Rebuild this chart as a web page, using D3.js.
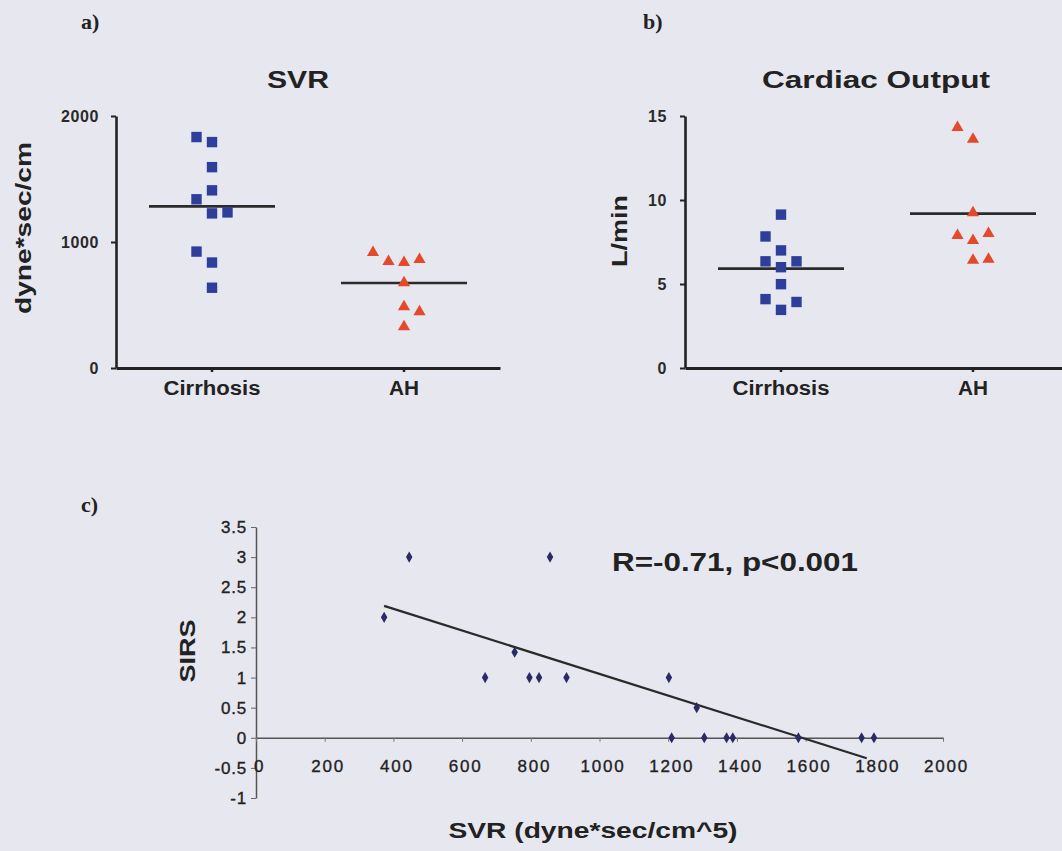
<!DOCTYPE html>
<html><head><meta charset="utf-8">
<script src="https://cdn.jsdelivr.net/npm/d3@7"></script>
<style>
html,body{margin:0;padding:0;background:#e7e7ef;}
svg{display:block;}
</style></head><body>
<svg id="chart" width="1062" height="851"></svg>
<script>
// ---------- data ----------
const groups = ["Cirrhosis", "AH"];

const svrCirrhosis    = [1833, 1793, 1594, 1410, 1339, 1227, 1235, 924, 837, 637];
const svrCirrhosisCol = [-1, 0, 0, 0, -1, 0, 1, -1, 0, 0];
const svrAH           = [916, 845, 837, 861, 677, 486, 446, 327];
const svrAHCol        = [-2, -1, 0, 1, 0, 0, 1, 0];
const svrTicks        = [0, 1000, 2000];

const coCirrhosis    = [9.13, 7.83, 7.0, 6.35, 6.35, 6.0, 4.99, 4.1, 3.93, 3.46];
const coCirrhosisCol = [0, -1, 0, -1, 1, 0, 0, -1, 1, 0];
const coAH           = [14.32, 13.61, 9.24, 7.89, 7.59, 8.0, 6.41, 6.47];
const coAHCol        = [-1, 0, 0, -1, 0, 1, 0, 1];
const coTicks        = [0, 5, 10, 15];

const sirsSVR   = [373, 446, 667, 753, 796, 824, 856, 904, 1202, 1283, 1210, 1305, 1370, 1388, 1579, 1763, 1799];
const sirsScore = [2, 3, 1, 1.42, 1, 1, 3, 1, 1, 0.5, 0, 0, 0, 0, 0, 0, 0];
const trendSVR  = [373, 1778];
const trendSIRS = [2.19, -0.34];
const sirsXTicks = [0, 200, 400, 600, 800, 1000, 1200, 1400, 1600, 1800, 2000];
const sirsYTicks = [-1, -0.5, 0, 0.5, 1, 1.5, 2, 2.5, 3, 3.5];

// ---------- helpers ----------
const svg = d3.select("#chart");
const INK = "#222";
const BLUE = "#2d3f9b";
const RED = "#e4492b";
const SANS = "'Liberation Sans', Arial, sans-serif";

function fit(sel, w) { return sel.attr("textLength", w).attr("lengthAdjust", "spacingAndGlyphs"); }
function label(x, y, txt, opts) {
  const t = svg.append("text").attr("x", x).attr("y", y).text(txt)
    .attr("font-family", opts.family || SANS)
    .attr("font-size", opts.size)
    .attr("font-weight", opts.weight || "bold")
    .attr("fill", INK)
    .attr("text-anchor", opts.anchor || "middle");
  if (opts.rotate) t.attr("transform", `rotate(-90,${x},${y})`);
  if (opts.width) fit(t, opts.width);
  return t;
}

// ---------- dot panels (a, b) ----------
function dotPanel(cfg) {
  const y = d3.scaleLinear().domain([0, cfg.max]).range([368, 116]);
  const x = d3.scaleBand().domain(groups).range([cfg.x0, cfg.x0 + 384]);
  const g = svg.append("g");

  const ya = g.append("g").attr("transform", `translate(${cfg.x0},0)`)
    .call(d3.axisLeft(y).tickValues(cfg.ticks).tickSize(5).tickSizeOuter(0)
      .tickPadding(cfg.pad).tickFormat(d3.format("d")));
  ya.select(".domain").attr("stroke", INK).attr("stroke-width", 2.6);
  ya.selectAll(".tick line").attr("stroke", INK).attr("stroke-width", 2);
  ya.selectAll(".tick text").attr("font-family", SANS).attr("font-size", 16)
    .attr("font-weight", "bold").attr("fill", "#2a2a2a").attr("letter-spacing", "0.6px");

  const xa = g.append("g").attr("transform", "translate(0,368)")
    .call(d3.axisBottom(x).tickSize(4).tickSizeOuter(0).tickPadding(9));
  xa.select(".domain").attr("stroke", INK).attr("stroke-width", 2.8);
  xa.selectAll(".tick line").attr("stroke", INK).attr("stroke-width", 2.5);
  xa.selectAll(".tick text").attr("font-family", SANS).attr("font-size", 20)
    .attr("font-weight", "bold").attr("fill", INK)
    .each(function (d) { fit(d3.select(this), d === "Cirrhosis" ? 97 : 30); });

  const cx = gname => x(gname) + x.bandwidth() / 2;
  const step = 15.5;

  // group means
  [[cfg.cir, "Cirrhosis"], [cfg.ah, "AH"]].forEach(([vals, gname]) => {
    const m = d3.mean(vals);
    g.append("line").attr("x1", cx(gname) - 63).attr("x2", cx(gname) + 63)
      .attr("y1", y(m)).attr("y2", y(m)).attr("stroke", "#2b2b2b").attr("stroke-width", 2.6);
  });

  g.selectAll("rect.pt").data(cfg.cir).join("rect").attr("class", "pt")
    .attr("x", (d, i) => cx("Cirrhosis") + cfg.cirCol[i] * step - 5.2)
    .attr("y", d => y(d) - 5.2).attr("width", 10.4).attr("height", 10.4).attr("fill", BLUE);

  const tri = d3.symbol().type(d3.symbolTriangle).size(64);
  g.selectAll("path.pt").data(cfg.ah).join("path").attr("class", "pt")
    .attr("d", tri)
    .attr("transform", (d, i) => `translate(${cx("AH") + cfg.ahCol[i] * step},${y(d)})`)
    .attr("fill", RED);
}

dotPanel({ x0: 116, max: 2000, ticks: svrTicks, pad: 12,
  cir: svrCirrhosis, cirCol: svrCirrhosisCol, ah: svrAH, ahCol: svrAHCol });
dotPanel({ x0: 685, max: 15, ticks: coTicks, pad: 13,
  cir: coCirrhosis, cirCol: coCirrhosisCol, ah: coAH, ahCol: coAHCol });

const SERIF = "'Liberation Serif', 'Times New Roman', serif";
label(81, 29, "a)", { family: SERIF, size: 22, anchor: "start" });
label(643, 29, "b)", { family: SERIF, size: 22, anchor: "start" });
label(298, 88, "SVR", { size: 23, width: 62 });
label(876, 88, "Cardiac Output", { size: 23, width: 228 });
label(31, 228, "dyne*sec/cm", { size: 22, width: 172, rotate: true });
label(627, 231, "L/min", { size: 22, width: 72, rotate: true });

// ---------- scatter panel (c) ----------
const sx = d3.scaleLinear().domain([0, 2000]).range([256, 943]);
const sy = d3.scaleLinear().domain([-1, 3.5]).range([798, 527]);
const gc = svg.append("g");

const yac = gc.append("g").attr("transform", "translate(256,0)")
  .call(d3.axisLeft(sy).tickValues(sirsYTicks).tickSize(5).tickSizeOuter(0).tickPadding(4).tickFormat(d => String(d)));
yac.select(".domain").attr("stroke", "#555").attr("stroke-width", 1.5);
yac.selectAll(".tick line").attr("stroke", "#666").attr("stroke-width", 1);
yac.selectAll(".tick text").attr("font-family", SANS).attr("font-size", 17)
  .attr("fill", INK).attr("stroke", INK).attr("stroke-width", 0.35).attr("letter-spacing", "0.8px");

const xac = gc.append("g").attr("transform", `translate(0,${sy(0)})`)
  .call(d3.axisBottom(sx).tickValues(sirsXTicks).tickSize(4).tickSizeOuter(0).tickPadding(18).tickFormat(d => String(d)));
xac.select(".domain").attr("stroke", "#555").attr("stroke-width", 1.5);
xac.selectAll(".tick line").attr("stroke", "#777").attr("stroke-width", 1);
xac.selectAll(".tick text").attr("font-family", SANS).attr("font-size", 17)
  .attr("fill", INK).attr("stroke", INK).attr("stroke-width", 0.35).attr("dx", 3).attr("letter-spacing", "1.8px");

gc.append("line")
  .attr("x1", sx(trendSVR[0])).attr("y1", sy(trendSIRS[0]))
  .attr("x2", sx(trendSVR[1])).attr("y2", sy(trendSIRS[1]))
  .attr("stroke", "#2a2a2a").attr("stroke-width", 2.2);

const dia = d3.symbol().type(d3.symbolDiamond).size(36);
gc.selectAll("path.dp").data(sirsSVR).join("path").attr("class", "dp")
  .attr("d", dia)
  .attr("transform", (d, i) => `translate(${sx(d)},${sy(sirsScore[i])})`)
  .attr("fill", "#2a2a66");

label(81, 512, "c)", { family: SERIF, size: 22, anchor: "start" });
label(195, 651, "SIRS", { size: 22, width: 63, rotate: true });
label(593, 838, "SVR (dyne*sec/cm^5)", { size: 22, width: 289 });
label(612, 571, "R=-0.71, p<0.001", { size: 26, width: 246, anchor: "start" });
</script>
</body></html>
